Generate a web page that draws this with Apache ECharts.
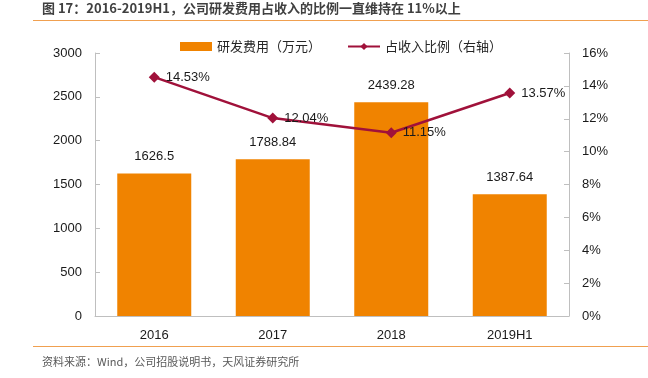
<!DOCTYPE html>
<html><head><meta charset="utf-8">
<script src="https://cdn.jsdelivr.net/npm/echarts@6/dist/echarts.min.js"></script>
<style>html,body{margin:0;padding:0;background:#fff}#c{width:648px;height:378px;position:relative}
.t{position:absolute;left:42px;top:0px;font:bold 13px "Noto Sans CJK SC",sans-serif;color:#404040;line-height:15px}
.s{position:absolute;left:42px;top:353px;font:11px "Noto Sans CJK SC",sans-serif;color:#595959}
.l1{position:absolute;left:33px;right:0;top:20px;height:1px;background:#f0a050}
.l2{position:absolute;left:33px;right:0;top:346px;height:1px;background:#f0a050}
</style></head><body>
<div id="c"></div>
<script>
const categories = ['2016','2017','2018','2019H1'];
const rdExpense = [1626.5, 1788.84, 2439.28, 1387.64];
const revenueRatio = [14.53, 12.04, 11.15, 13.57];
const leftTicks = {min:0, max:3000, interval:500};
const rightTicks = {min:0, max:16, interval:2};

const el = document.getElementById('c');
const chart = echarts.init(el, null, {renderer:'canvas'});
const font = '"Liberation Sans","DejaVu Sans",sans-serif';
chart.setOption({
  animation:false,
  grid:{left:95,right:79,top:53,bottom:62},
  legend:{
    top:35,left:175,itemGap:26,itemWidth:32,itemHeight:9,
    textStyle:{fontFamily:'"Noto Sans CJK SC",sans-serif',fontSize:13,color:'#262626'},
    data:[{name:'研发费用（万元）',icon:'rect'},{name:'占收入比例（右轴）'}]
  },
  xAxis:{type:'category',data:categories,
    axisLine:{lineStyle:{color:'#bfbfbf'}},axisTick:{show:false},
    axisLabel:{fontFamily:font,fontSize:13,color:'#1a1a1a',margin:13}},
  yAxis:[
    {type:'value',min:leftTicks.min,max:leftTicks.max,interval:leftTicks.interval,
     axisLine:{show:true,lineStyle:{color:'#bfbfbf'}},axisTick:{show:true,inside:true,length:5,lineStyle:{color:'#bfbfbf'}},
     splitLine:{show:false},axisLabel:{fontFamily:font,fontSize:13,color:'#1a1a1a',margin:13,formatter:v=>String(v)}},
    {type:'value',min:rightTicks.min,max:rightTicks.max,interval:rightTicks.interval,position:'right',
     axisLine:{show:true,lineStyle:{color:'#bfbfbf'}},axisTick:{show:true,inside:true,length:5,lineStyle:{color:'#bfbfbf'}},
     splitLine:{show:false},axisLabel:{fontFamily:font,fontSize:13,color:'#1a1a1a',margin:13,formatter:'{value}%'}}
  ],
  series:[
    {name:'研发费用（万元）',type:'bar',data:rdExpense,barWidth:74,
     itemStyle:{color:'#f08300'},
     label:{show:true,position:'top',distance:10,fontFamily:font,fontSize:13,color:'#1a1a1a'}},
    {name:'占收入比例（右轴）',type:'line',yAxisIndex:1,data:revenueRatio,
     symbol:'diamond',symbolSize:11,
     lineStyle:{color:'#a0113a',width:2.5},itemStyle:{color:'#a0113a'},
     label:{show:true,position:'right',distance:6,fontFamily:font,fontSize:13,color:'#1a1a1a',formatter:p=>p.value.toFixed(2)+'%'}}
  ]
});
</script>
<div class="t">图 17：2016-2019H1，公司研发费用占收入的比例一直维持在 11%以上</div>
<div class="l1"></div>
<div class="l2"></div>
<div class="s">资料来源：Wind，公司招股说明书，天风证券研究所</div>
</body></html>
